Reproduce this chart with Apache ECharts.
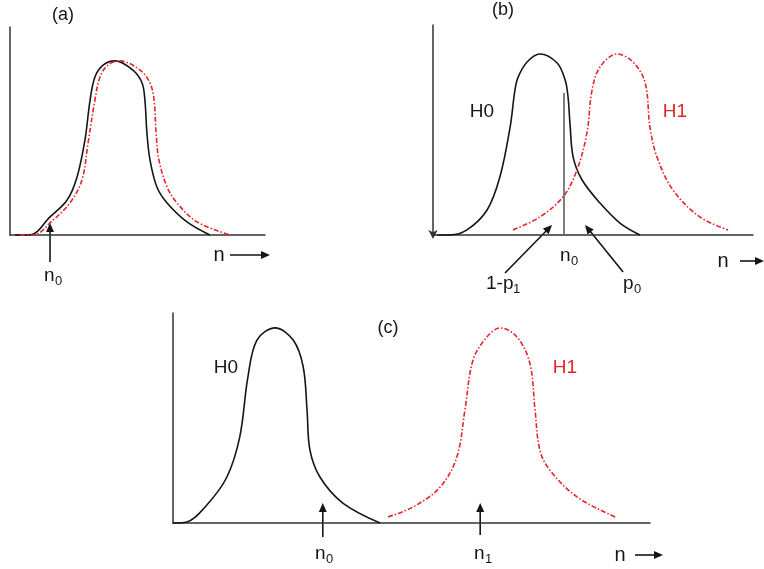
<!DOCTYPE html>
<html>
<head>
<meta charset="utf-8">
<script src="https://cdn.jsdelivr.net/npm/echarts@6/dist/echarts.min.js"></script>
<style>
  html, body { margin: 0; padding: 0; background: #fff; }
  #main { width: 764px; height: 569px; }
</style>
</head>
<body>
<div id="main"></div>
<script>
// all three panels use 0..100 on both axes (n along x, density up y)

// (a) H0 and H1 almost on top of each other
var a_h0_x = [2.0, 7.8, 15.7, 22.4, 26.3, 29.4, 31.4, 33.3, 36.5, 41.2, 48.2, 51.8, 52.9, 53.7, 54.9, 57.6, 61.6, 69.4, 78.4];
var a_h0_y = [0, 0, 8.7, 16.8, 27.9, 45.7, 64.9, 76.0, 81.7, 83.7, 79.3, 73.1, 64.9, 49.0, 36.1, 23.1, 15.4, 6.3, 0];
var a_h1_x = [3.9, 9.0, 16.9, 23.5, 28.2, 30.6, 33.3, 35.3, 38.4, 43.1, 51.0, 54.9, 56.5, 57.3, 58.4, 61.6, 65.5, 73.3, 86.3];
var a_h1_y = [0, 0, 7.2, 15.4, 26.4, 44.2, 64.9, 76.0, 81.7, 83.7, 79.3, 73.1, 64.9, 49.0, 36.1, 23.1, 15.4, 6.3, 0];

// (b) overlapping
var b_h0_x = [1.3, 5.3, 10.6, 16.9, 20.9, 24.1, 25.6, 26.6, 29.4, 33.4, 38.8, 41.3, 42.2, 42.8, 43.8, 46.6, 52.2, 58.4, 64.7];
var b_h0_y = [0, 0, 2.4, 11.9, 27.6, 51.4, 69.0, 75.2, 82.4, 86.2, 81.9, 73.8, 65.7, 53.3, 37.1, 26.2, 15.2, 5.7, 0];
var b_h1_x = [25.0, 33.4, 40.6, 45.0, 48.1, 49.7, 52.2, 57.5, 62.5, 66.3, 67.8, 70.0, 75.0, 83.4, 92.2];
var b_h1_y = [2.4, 8.6, 18.1, 31.0, 48.6, 69.0, 80.0, 86.2, 82.4, 72.4, 51.4, 37.1, 21.4, 8.6, 2.4];
var b_n0 = 40.9, b_n0_top = 67.6;

// (c) well separated
var c_h0_x = [0, 2.9, 7.1, 11.3, 14.0, 15.7, 17.6, 21.4, 25.2, 27.3, 28.1, 28.7, 30.8, 35.6, 43.4];
var c_h0_y = [0, 0.5, 8.6, 21.9, 41.0, 69.5, 87.1, 92.9, 87.1, 74.3, 53.8, 34.8, 21.9, 9.5, 0];
var c_h1_x = [45.1, 50.3, 56.0, 59.5, 61.2, 62.9, 65.8, 68.6, 72.1, 74.8, 75.9, 76.9, 79.0, 84.7, 92.7];
var c_h1_y = [2.9, 7.6, 17.1, 31.4, 53.8, 77.6, 88.6, 92.9, 88.6, 76.2, 53.8, 34.8, 25.2, 12.4, 2.9];

// arrows pointing at the axis, per panel: [x0, y0, x1, y1] (tail -> head)
var arrows = [
    [[15.7, -13.0, 15.7, 5.8]],
    [[22.5, -18.1, 37.2, 4.8], [59.4, -17.6, 47.5, 4.8]],
    [[31.4, -6.7, 31.4, 9.5], [64.4, -5.7, 64.4, 9.5]]
];

function pairs(xs, ys) {
    return xs.map(function (x, i) { return [x, ys[i]]; });
}

var FONT = 'Liberation Sans';
var BLACK = '#151515';
var RED = '#e3242b';

var grids = [
    {left: 10, top: 27, width: 255, height: 208},
    {left: 433, top: 25, width: 320, height: 210},
    {left: 173, top: 313, width: 477, height: 210}
];

var xAxes = [], yAxes = [];
grids.forEach(function (g, i) {
    xAxes.push({
        type: 'value', gridIndex: i, min: 0, max: 100,
        axisLine: {show: true, onZero: false, lineStyle: {color: '#333', width: 1.5}},
        axisTick: {show: false}, axisLabel: {show: false}, splitLine: {show: false}
    });
    yAxes.push({
        type: 'value', gridIndex: i, min: 0, max: 100,
        axisLine: {
            show: true, onZero: false,
            symbol: i === 1 ? ['arrow', 'none'] : 'none',
            symbolSize: [7, 9],
            symbolOffset: [-4, 0],
            lineStyle: {color: '#333', width: 1.5}
        },
        axisTick: {show: false}, axisLabel: {show: false}, splitLine: {show: false}
    });
});

function curve(idx, data, red) {
    return {
        type: 'line', xAxisIndex: idx, yAxisIndex: idx,
        data: data, smooth: 0.35, showSymbol: false, clip: false,
        lineStyle: red ? {color: RED, width: 1.6, type: [5, 2, 1.5, 2]} : {color: BLACK, width: 1.6}
    };
}

var series = [
    curve(0, pairs(a_h0_x, a_h0_y), false),
    curve(0, pairs(a_h1_x, a_h1_y), true),
    curve(1, pairs(b_h0_x, b_h0_y), false),
    curve(1, pairs(b_h1_x, b_h1_y), true),
    curve(2, pairs(c_h0_x, c_h0_y), false),
    curve(2, pairs(c_h1_x, c_h1_y), true)
];
// threshold line n0 in (b)
series[2].markLine = {
    silent: true, symbol: 'none', label: {show: false},
    lineStyle: {color: '#555', width: 1.5, type: 'solid'},
    data: [[{coord: [b_n0, 0]}, {coord: [b_n0, b_n0_top]}]]
};

// text labels
function txt(x, y, s, size, color, align) {
    return {
        type: 'text', x: x, y: y, silent: true,
        style: {
            text: s, fill: color || BLACK, font: size + 'px "' + FONT + '"',
            textAlign: align || 'center', textVerticalAlign: 'middle'
        }
    };
}
// base text + lowered small subscript
function subTxt(x, y, base, sub, baseW, color) {
    return [
        txt(x, y, base, 19, color, 'left'),
        txt(x + baseW, y + 5, sub, 13, color, 'left')
    ];
}
function head(x1, y1, x2, y2, len, half) {
    var dx = x2 - x1, dy = y2 - y1, d = Math.sqrt(dx * dx + dy * dy);
    var ux = dx / d, uy = dy / d;
    var bx = x2 - ux * len, by = y2 - uy * len;
    return {
        type: 'polygon', silent: true,
        shape: {points: [[x2, y2], [bx - uy * half, by + ux * half], [bx + uy * half, by - ux * half]]},
        style: {fill: BLACK}
    };
}
function arrowPx(x1, y1, x2, y2) {
    var dx = x2 - x1, dy = y2 - y1, d = Math.sqrt(dx * dx + dy * dy);
    return [
        {type: 'line', silent: true,
            shape: {x1: x1, y1: y1, x2: x2 - dx / d * 6, y2: y2 - dy / d * 6},
            style: {stroke: BLACK, lineWidth: 1.6}},
        head(x1, y1, x2, y2, 9, 4)
    ];
}
// "n ->" under each axis
function nArrow(xn, y, x1, x2) {
    return [txt(xn, y, 'n', 20, BLACK, 'center')].concat(arrowPx(x1, y, x2, y));
}

var chart = echarts.init(document.getElementById('main'));
chart.setOption({
    backgroundColor: '#fff',
    animation: false,
    grid: grids,
    xAxis: xAxes,
    yAxis: yAxes,
    series: series
});

var graphics = [
    txt(63, 15, '(a)', 18),
    txt(503, 10, '(b)', 18),
    txt(388, 328, '(c)', 18),
    txt(482, 112, 'H0', 19),
    txt(675, 112, 'H1', 19, RED),
    txt(226, 368, 'H0', 19),
    txt(565, 368, 'H1', 19, RED)
]
    .concat(subTxt(44, 276, 'n', '0', 11))
    .concat(subTxt(560, 256, 'n', '0', 11))
    .concat(subTxt(486, 284, '1-p', '1', 27))
    .concat(subTxt(623, 284, 'p', '0', 11))
    .concat(subTxt(315, 554, 'n', '0', 11))
    .concat(subTxt(474, 554, 'n', '1', 11))
    .concat(nArrow(219, 255, 230, 270))
    .concat(nArrow(723, 261, 740, 764))
    .concat(nArrow(620, 555, 635, 663));

// pointer arrows placed through each panel's axes
arrows.forEach(function (list, gi) {
    list.forEach(function (a) {
        var p0 = chart.convertToPixel({gridIndex: gi}, [a[0], a[1]]);
        var p1 = chart.convertToPixel({gridIndex: gi}, [a[2], a[3]]);
        graphics = graphics.concat(arrowPx(p0[0], p0[1], p1[0], p1[1]));
    });
});

chart.setOption({graphic: graphics});
</script>
</body>
</html>
